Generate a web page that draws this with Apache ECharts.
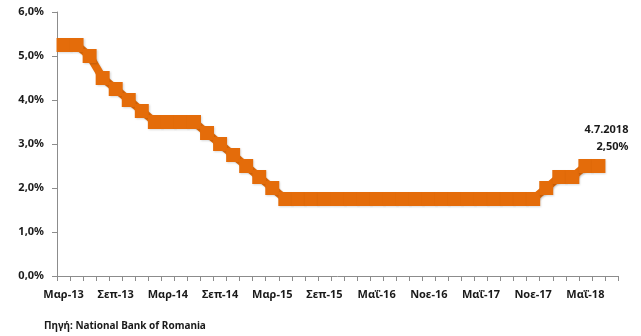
<!DOCTYPE html>
<html>
<head>
<meta charset="utf-8">
<script src="https://cdn.jsdelivr.net/npm/echarts@6/dist/echarts.min.js"></script>
<style>
    html, body { margin: 0; padding: 0; background: #fff; }
    #chart { width: 641px; height: 336px; }
</style>
</head>
<body>
<div id="chart"></div>
<script>
// συνεδριάσεις NBR (κατηγορίες του άξονα)
var months = [
    'Μαρ-13', 'Μαΐ-13', 'Ιουλ-13', 'Αυγ-13', 'Σεπ-13', 'Νοε-13', 'Ιαν-14', 'Φεβ-14',
    'Μαρ-14', 'Μαΐ-14', 'Ιουλ-14', 'Αυγ-14', 'Σεπ-14', 'Νοε-14', 'Ιαν-15', 'Φεβ-15',
    'Μαρ-15', 'Μαΐ-15', 'Ιουλ-15', 'Αυγ-15', 'Σεπ-15', 'Νοε-15', 'Ιαν-16', 'Φεβ-16',
    'Μαΐ-16', 'Ιουλ-16', 'Αυγ-16', 'Σεπ-16', 'Νοε-16', 'Ιαν-17', 'Φεβ-17', 'Απρ-17',
    'Μαΐ-17', 'Ιουλ-17', 'Αυγ-17', 'Οκτ-17', 'Νοε-17', 'Ιαν-18', 'Φεβ-18', 'Απρ-18',
    'Μαΐ-18', 'Ιουλ-18', ''
];

// επιτόκιο πολιτικής (%)
var rate = [
    5.25, 5.25, 5.00, 4.50, 4.25, 4.00, 3.75, 3.50,
    3.50, 3.50, 3.50, 3.25, 3.00, 2.75, 2.50, 2.25,
    2.00, 1.75, 1.75, 1.75, 1.75, 1.75, 1.75, 1.75,
    1.75, 1.75, 1.75, 1.75, 1.75, 1.75, 1.75, 1.75,
    1.75, 1.75, 1.75, 1.75, 1.75, 2.00, 2.25, 2.25,
    2.50, 2.50, null
];

var yTicks = [0, 1, 2, 3, 4, 5, 6];
var lastIndex = 41;
var lastDate = '4.7.2018';
var sourceText = 'Πηγή: National Bank of Romania';

var orange = '#E46C0A';
var font = "'Noto Sans', 'DejaVu Sans', sans-serif";

function pct(v, d) {
    return v.toFixed(d).replace('.', ',') + '%';
}

var seriesData = rate.map(function (v, i) {
    if (i !== lastIndex) return v;
    return {
        value: v,
        label: {
            show: true,
            position: [37, -38],
            align: 'right',
            verticalAlign: 'top',
            fontFamily: font,
            fontWeight: 'bold',
            fontSize: 11,
            lineHeight: 17,
            color: '#1a1a1a',
            formatter: function (p) {
                return lastDate + '\n' + pct(p.value, 2);
            }
        }
    };
});

var chart = echarts.init(document.getElementById('chart'));
chart.setOption({
    animation: false,
    title: {
        text: sourceText,
        left: 39,
        top: 316,
        textStyle: {
            fontFamily: font,
            fontWeight: 'bold',
            fontSize: 10,
            color: '#1a1a1a'
        }
    },
    grid: {
        left: 57,
        right: 23,
        top: 12,
        bottom: 60
    },
    xAxis: {
        type: 'category',
        data: months,
        boundaryGap: true,
        axisLine: { lineStyle: { color: '#8c8c8c', width: 1 } },
        axisTick: { show: true, interval: 0, length: 5, lineStyle: { color: '#8c8c8c' } },
        axisLabel: {
            interval: 3,
            margin: 13,
            fontFamily: font,
            fontWeight: 'bold',
            fontSize: 11,
            color: '#1a1a1a'
        },
        splitLine: { show: false }
    },
    yAxis: {
        type: 'value',
        min: yTicks[0],
        max: yTicks[yTicks.length - 1],
        interval: 1,
        axisLine: { show: true, lineStyle: { color: '#8c8c8c', width: 1 } },
        axisTick: { show: true, length: 5, lineStyle: { color: '#8c8c8c' } },
        axisLabel: {
            margin: 13,
            fontFamily: font,
            fontWeight: 'bold',
            fontSize: 11,
            color: '#1a1a1a',
            formatter: function (v) { return pct(v, 1); }
        },
        splitLine: { show: false }
    },
    series: [{
        type: 'line',
        data: seriesData,
        symbol: 'rect',
        symbolSize: 14,
        showAllSymbol: true,
        connectNulls: false,
        lineStyle: {
            color: orange,
            width: 8,
            shadowColor: 'rgba(0,0,0,0.18)',
            shadowBlur: 2,
            shadowOffsetX: 1,
            shadowOffsetY: 1
        },
        itemStyle: {
            color: orange,
            shadowColor: 'rgba(0,0,0,0.15)',
            shadowBlur: 2,
            shadowOffsetX: 1,
            shadowOffsetY: 1
        }
    }]
});
</script>
</body>
</html>
